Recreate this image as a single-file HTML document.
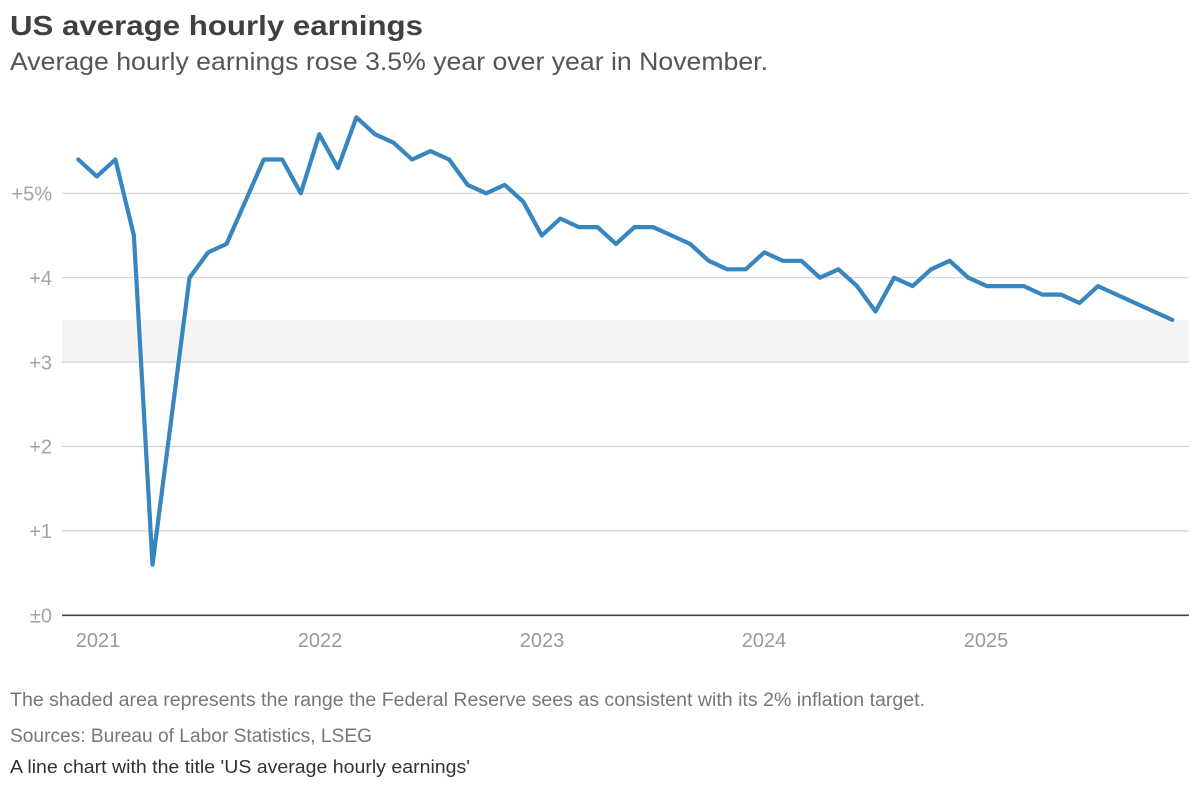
<!DOCTYPE html>
<html>
<head>
<meta charset="utf-8">
<style>
  html, body { margin: 0; padding: 0; background: #ffffff; }
  svg { display: block; }
  text { font-family: "Liberation Sans", "DejaVu Sans", sans-serif; }
</style>
</head>
<body>
<svg width="1200" height="786" viewBox="0 0 1200 786" xmlns="http://www.w3.org/2000/svg">
  <rect x="0" y="0" width="1200" height="786" fill="#ffffff"/>

  <!-- Title & subtitle -->
  <text x="10" y="35" font-size="28" font-weight="bold" fill="#404040" textLength="413" lengthAdjust="spacingAndGlyphs">US average hourly earnings</text>
  <text x="10" y="70" font-size="25" fill="#555555" textLength="758" lengthAdjust="spacingAndGlyphs">Average hourly earnings rose 3.5% year over year in November.</text>

  <!-- Shaded band 3.0 - 3.5 -->
  <rect x="62" y="320" width="1127" height="42" fill="#f4f4f4"/>

  <!-- Gridlines -->
  <g stroke="#d2d2d2" stroke-width="1.2">
    <line x1="62" y1="193.3" x2="1189" y2="193.3"/>
    <line x1="62" y1="277.7" x2="1189" y2="277.7"/>
    <line x1="62" y1="362.1" x2="1189" y2="362.1"/>
    <line x1="62" y1="446.5" x2="1189" y2="446.5"/>
    <line x1="62" y1="530.9" x2="1189" y2="530.9"/>
  </g>
  <line x1="62" y1="615.3" x2="1189" y2="615.3" stroke="#444444" stroke-width="1.6"/>

  <!-- Y labels -->
  <g font-size="20" fill="#a3a3a3" text-anchor="end">
    <text x="52" y="200.5">+5%</text>
    <text x="52" y="284.9">+4</text>
    <text x="52" y="369.3">+3</text>
    <text x="52" y="453.7">+2</text>
    <text x="52" y="538.1">+1</text>
    <text x="52" y="622.5">±0</text>
  </g>

  <!-- X labels -->
  <g font-size="20" fill="#999999" text-anchor="middle">
    <text x="98" y="647">2021</text>
    <text x="320" y="647">2022</text>
    <text x="542" y="647">2023</text>
    <text x="764" y="647">2024</text>
    <text x="986" y="647">2025</text>
  </g>

  <!-- Data line -->
  <polyline fill="none" stroke="#3786bf" stroke-width="4.2" stroke-linejoin="round" stroke-linecap="round"
    points="78.3,159.5 96.8,176.4 115.4,159.5 133.9,235.5 152.5,564.7 171.0,421.2 189.5,277.7 208.1,252.4 226.6,243.9 245.2,201.7 263.7,159.5 282.2,159.5 300.8,193.3 319.3,134.2 337.9,168.0 356.4,117.3 374.9,134.2 393.5,142.7 412.0,159.5 430.6,151.1 449.1,159.5 467.6,184.9 486.2,193.3 504.7,184.9 523.3,201.7 541.8,235.5 560.3,218.6 578.9,227.1 597.4,227.1 616.0,243.9 634.5,227.1 653.0,227.1 671.6,235.5 690.1,243.9 708.7,260.8 727.2,269.3 745.7,269.3 764.3,252.4 782.8,260.8 801.4,260.8 819.9,277.7 838.4,269.3 857.0,286.1 875.5,311.5 894.1,277.7 912.6,286.1 931.1,269.3 949.7,260.8 968.2,277.7 986.8,286.1 1005.3,286.1 1023.8,286.1 1042.4,294.6 1060.9,294.6 1079.5,303.0 1098.0,286.1 1172.2,319.9"/>

  <!-- Footer -->
  <text x="10" y="706" font-size="19" fill="#777777" textLength="915" lengthAdjust="spacingAndGlyphs">The shaded area represents the range the Federal Reserve sees as consistent with its 2% inflation target.</text>
  <text x="10" y="742" font-size="19" fill="#777777" textLength="362" lengthAdjust="spacingAndGlyphs">Sources: Bureau of Labor Statistics, LSEG</text>
  <text x="10" y="773" font-size="18" fill="#333333" textLength="460" lengthAdjust="spacingAndGlyphs">A line chart with the title 'US average hourly earnings'</text>
</svg>
</body>
</html>
